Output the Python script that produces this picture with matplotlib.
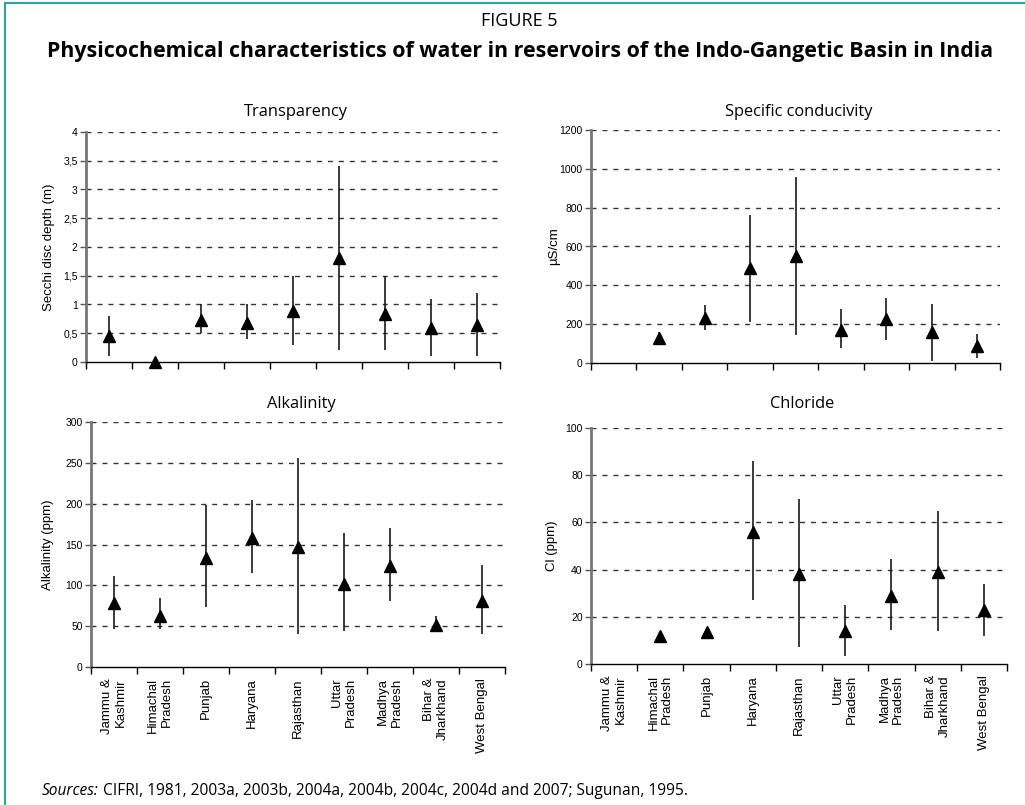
import numpy as np
import matplotlib
matplotlib.use('Agg')
import matplotlib.pyplot as plt
from matplotlib.ticker import FuncFormatter, FixedLocator
from matplotlib.lines import Line2D

nan = np.nan

states = ['Jammu &\nKashmir', 'Himachal\nPradesh', 'Punjab', 'Haryana', 'Rajasthan',
          'Uttar\nPradesh', 'Madhya\nPradesh', 'Bihar &\nJharkhand', 'West Bengal']

# mean, min, max per state
transp_mean = [0.45, 0.0, 0.73, 0.68, 0.89, 1.8, 0.84, 0.59, 0.64]
transp_min = [0.1, nan, 0.5, 0.4, 0.3, 0.2, 0.2, 0.1, 0.1]
transp_max = [0.8, nan, 1.0, 1.0, 1.5, 3.4, 1.5, 1.1, 1.2]

cond_mean = [nan, 130, 231, 489, 549, 171, 228, 158, 89]
cond_min = [nan, 95, 170, 210, 145, 75, 120, 10, 25]
cond_max = [nan, 160, 300, 762, 960, 280, 335, 305, 150]

alk_mean = [78, 63, 134, 158, 147, 102, 124, 51, 81]
alk_min = [46, 46, 73, 115, 40, 44, 81, 46, 40]
alk_max = [112, 84, 198, 205, 256, 164, 170, 62, 125]

cl_mean = [nan, 12, 13.4, 56, 38, 14, 29, 39, 22.7]
cl_min = [nan, nan, nan, 27, 7, 3.5, 14.5, 14, 12]
cl_max = [nan, nan, nan, 86, 70, 25, 44.5, 65, 34]

W, H = 1025, 805
fig = plt.figure(figsize=(W / 100, H / 100), dpi=100)

cfont = 'Liberation Sans'
tfont = 'Open Sans'
teal = '#2ea3a3'


def px_axes(left, right, top, bottom):
    return fig.add_axes([left / W, 1 - bottom / H, (right - left) / W, (bottom - top) / H])


def comma_fmt(v, pos):
    if float(v).is_integer():
        return '%d' % v
    return ('%g' % v).replace('.', ',')


def panel(ax, title, title_y, ylabel, mean, lo, hi, ymax, ystep, labels, lab_x, fmt=None):
    x = np.arange(len(states)) + 0.5
    ax.vlines(x, lo, hi, color='#1a1a1a', lw=1.2, zorder=3)
    ax.plot(x, mean, ls='none', marker='^', ms=9, color='black', zorder=4, clip_on=False)
    ax.set_xlim(0, len(states))
    ax.set_ylim(0, ymax)
    yt = np.arange(0, ymax + ystep / 2, ystep)
    ax.set_yticks(yt)
    if fmt is not None:
        ax.yaxis.set_major_formatter(FuncFormatter(fmt))
    for v in yt[1:]:
        ax.axhline(v, color='#333333', lw=1, ls=(0, (3.6, 4.3)), zorder=1)
    ax.xaxis.set_major_locator(FixedLocator(np.arange(len(states) + 1)))
    ax.xaxis.set_minor_locator(FixedLocator(x))
    ax.set_xticklabels([], minor=False)
    if labels:
        ax.set_xticklabels(states, minor=True, rotation=90, ha='center', va='top',
                           multialignment='right', fontsize=9.5, family=cfont)
    ax.tick_params(axis='x', which='major', direction='out', length=5, width=1, color='black')
    ax.tick_params(axis='x', which='minor', length=0, pad=8)
    ax.tick_params(axis='y', direction='out', length=4, width=1, pad=2, labelsize=7.5,
                   color='#555555')
    for lab in ax.get_yticklabels():
        lab.set_family(cfont)
    for s in ['top', 'right']:
        ax.spines[s].set_visible(False)
    ax.spines['left'].set_color('#777777')
    ax.spines['left'].set_linewidth(2)
    ax.spines['bottom'].set_color('black')
    ax.spines['bottom'].set_linewidth(1)
    pos = ax.get_position()
    fig.text((pos.x0 + pos.x1) / 2 + 3 / W, 1 - title_y / H, title, ha='center', va='center',
             family=tfont, fontsize=11.8)
    ax.set_ylabel(ylabel, family=cfont, fontsize=9.5)
    ax.yaxis.set_label_coords(lab_x, 0.5)


ax1 = px_axes(86, 500, 132, 362)
panel(ax1, 'Transparency', 112, 'Secchi disc depth (m)', transp_mean, transp_min, transp_max,
      4, 0.5, False, -0.075, comma_fmt)

ax2 = px_axes(591, 1000, 130, 363)
panel(ax2, 'Specific conducivity', 112, 'µS/cm', cond_mean, cond_min, cond_max,
      1200, 200, False, -0.075)

ax3 = px_axes(91, 505, 422, 667)
panel(ax3, 'Alkalinity', 404, 'Alkalinity (ppm)', alk_mean, alk_min, alk_max,
      300, 50, True, -0.09)

ax4 = px_axes(591, 1007, 428, 664)
panel(ax4, 'Chloride', 404, 'Cl (ppm)', cl_mean, cl_min, cl_max,
      100, 20, True, -0.08)

fig.text(519 / W, 1 - 21 / H, 'FIGURE 5', ha='center', va='center', family=tfont, fontsize=13)
fig.text(520 / W, 1 - 51 / H,
         'Physicochemical characteristics of water in reservoirs of the Indo-Gangetic Basin in India',
         ha='center', va='center', family=tfont, fontsize=15.4, fontweight='bold')
src = fig.text(42 / W, 1 - 791 / H, 'Sources:', ha='left', va='center', family=tfont,
               fontsize=11.2, style='italic')
fig.canvas.draw()
bb = src.get_window_extent()
fig.text((bb.x1 + 4) / W, 1 - 791 / H,
         'CIFRI, 1981, 2003a, 2003b, 2004a, 2004b, 2004c, 2004d and 2007; Sugunan, 1995.',
         ha='left', va='center', family=tfont, fontsize=11.2)

# frame lines on the left and top
fig.add_artist(Line2D([5 / W, 5 / W], [0, 1 - 3 / H], color=teal, lw=1.5))
fig.add_artist(Line2D([5 / W, 1], [1 - 3 / H, 1 - 3 / H], color=teal, lw=1.5))

fig.savefig('out.png', dpi=100)
